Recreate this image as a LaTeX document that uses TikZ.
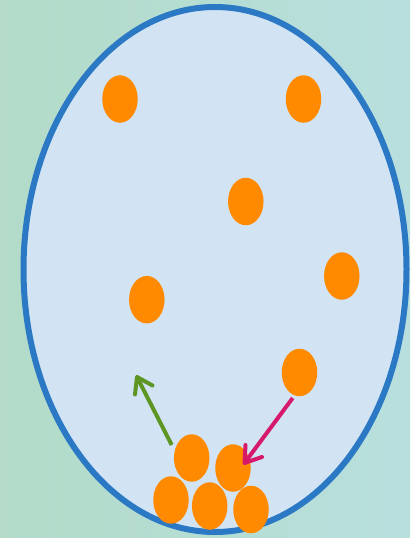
\documentclass[tikz,border=0pt]{standalone}
\usetikzlibrary{shapes.geometric}
\definecolor{bgleft}{RGB}{179,219,200}
\definecolor{bgright}{RGB}{184,223,222}
\definecolor{cellfill}{RGB}{210,228,244}
\definecolor{cellborder}{RGB}{43,120,196}
\definecolor{ballc}{RGB}{255,138,0}
\definecolor{greenarr}{RGB}{94,150,35}
\definecolor{pinkarr}{RGB}{214,25,107}
\tikzset{
  ball/.style={ellipse, fill=ballc, draw=none, inner sep=0pt, minimum width=35.5pt, minimum height=47.5pt},
  movearrow/.style={line width=4pt, line cap=round, line join=round},
}
\begin{document}
\begin{tikzpicture}[x=1pt,y=-1pt]
\useasboundingbox (0,0) rectangle (410,538);
\shade[left color=bgleft, right color=bgright] (0,0) rectangle (410,538);
\node[ellipse, draw=cellborder, line width=6pt, fill=cellfill, inner sep=0pt,
      minimum width=383pt, minimum height=525pt] (cell) at (215,269.5) {};
% scattered particles
\node[ball] (b1) at (120,99) {};
\node[ball] (b2) at (303.5,99) {};
\node[ball] (b3) at (245.8,201.5) {};
\node[ball] (b4) at (341.8,276) {};
\node[ball] (b5) at (146.8,299.7) {};
\node[ball] (b6) at (299.5,372.5) {};
% pile
\node[ball] (p1) at (191.7,458) {};
\node[ball] (p2) at (233,468) {};
\node[ball] (p3) at (171,500) {};
\node[ball] (p4) at (209.7,506) {};
\node[ball] (p5) at (251,509.5) {};
% arrows
\coordinate (gtail) at (171.7,445);
\coordinate (gtip) at (137,377);
\coordinate (ga1) at (152.5,385.5);
\coordinate (ga2) at (135,394.5);
\coordinate (ptail) at (292.7,398);
\coordinate (ptip) at (244.5,463);
\coordinate (pa1) at (262,457);
\coordinate (pa2) at (245.5,445);
\draw[movearrow, line cap=butt, greenarr] (gtail) -- (gtip);
\draw[movearrow, greenarr] (ga1) -- (gtip) -- (ga2);
\draw[movearrow, line cap=butt, pinkarr] (ptail) -- (ptip);
\draw[movearrow, pinkarr] (pa1) -- (ptip) -- (pa2);
\end{tikzpicture}
\end{document}
